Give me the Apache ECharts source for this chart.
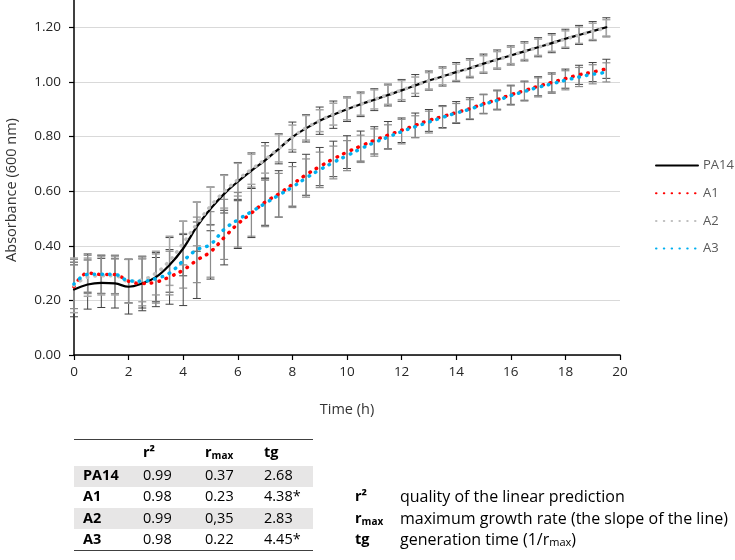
<!DOCTYPE html>
<html>
<head>
<meta charset="utf-8">
<script src="https://cdn.jsdelivr.net/npm/echarts@6/dist/echarts.min.js"></script>
<style>html,body{margin:0;padding:0;background:#fff}#c{width:735px;height:560px}</style>
</head>
<body>
<div id="c"></div>
<script>
var times = [0,0.5,1,1.5,2,2.5,3,3.5,4,4.5,5,5.5,6,6.5,7,7.5,8,8.5,9,9.5,10,10.5,11,11.5,12,12.5,13,13.5,14,14.5,15,15.5,16,16.5,17,17.5,18,18.5,19,19.5];
var PA14 = [0.24,0.258,0.264,0.262,0.25,0.262,0.285,0.33,0.39,0.47,0.535,0.59,0.635,0.675,0.713,0.755,0.798,0.83,0.858,0.88,0.9,0.918,0.935,0.952,0.969,0.987,1.005,1.02,1.036,1.05,1.067,1.082,1.097,1.112,1.127,1.142,1.158,1.172,1.186,1.2];
var A1 = [0.25,0.3,0.295,0.295,0.27,0.262,0.267,0.286,0.311,0.347,0.378,0.43,0.48,0.52,0.56,0.59,0.625,0.66,0.69,0.718,0.743,0.765,0.786,0.805,0.823,0.841,0.859,0.873,0.888,0.902,0.92,0.935,0.953,0.968,0.984,0.998,1.012,1.026,1.036,1.048];
var A2 = [0.255,0.285,0.29,0.29,0.27,0.275,0.3,0.345,0.41,0.48,0.545,0.598,0.642,0.68,0.716,0.757,0.797,0.832,0.858,0.882,0.901,0.918,0.936,0.953,0.97,0.988,1.004,1.02,1.035,1.05,1.066,1.081,1.097,1.112,1.127,1.142,1.157,1.171,1.185,1.198];
var A3 = [0.26,0.295,0.296,0.295,0.272,0.27,0.28,0.3,0.345,0.385,0.405,0.46,0.495,0.525,0.555,0.585,0.615,0.648,0.678,0.705,0.73,0.755,0.778,0.798,0.818,0.836,0.853,0.87,0.886,0.9,0.918,0.932,0.95,0.965,0.98,0.993,1.006,1.018,1.028,1.035];
var errPA14 = [0.1,0.09,0.09,0.09,0.1,0.1,0.09,0.1,0.1,0.09,0.08,0.07,0.07,0.065,0.065,0.055,0.055,0.05,0.05,0.05,0.045,0.045,0.04,0.04,0.04,0.04,0.035,0.035,0.035,0.035,0.035,0.035,0.035,0.035,0.035,0.035,0.035,0.035,0.035,0.035];
var errA1 = [0.08,0.07,0.07,0.07,0.08,0.09,0.09,0.1,0.13,0.14,0.1,0.1,0.09,0.09,0.085,0.085,0.08,0.075,0.07,0.065,0.06,0.055,0.05,0.05,0.045,0.045,0.04,0.04,0.04,0.04,0.035,0.035,0.035,0.035,0.035,0.035,0.035,0.035,0.035,0.035];
var errA2 = [0.1,0.07,0.07,0.07,0.08,0.08,0.08,0.09,0.08,0.08,0.07,0.06,0.06,0.055,0.05,0.05,0.045,0.045,0.04,0.04,0.04,0.04,0.035,0.035,0.035,0.03,0.03,0.03,0.03,0.03,0.03,0.03,0.03,0.03,0.03,0.03,0.03,0.03,0.03,0.03];
var errA3 = [0.09,0.07,0.07,0.07,0.08,0.09,0.09,0.08,0.1,0.12,0.12,0.11,0.1,0.09,0.085,0.08,0.075,0.07,0.065,0.06,0.055,0.05,0.05,0.045,0.045,0.04,0.04,0.04,0.035,0.035,0.035,0.035,0.035,0.035,0.035,0.035,0.035,0.035,0.035,0.035];
var yTicks = [0, 0.2, 0.4, 0.6, 0.8, 1.0, 1.2];
var xTicks = [0, 2, 4, 6, 8, 10, 12, 14, 16, 18, 20];
var tableHeader = ['', 'r²', 'rmax', 'tg'];
var tableRows = [['PA14','0.99','0.37','2.68'],['A1','0.98','0.23','4.38*'],['A2','0.99','0,35','2.83'],['A3','0.98','0.22','4.45*']];
var defs = [['r²','quality of the linear prediction'],['rmax','maximum growth rate (the slope of the line)'],['tg','generation time (1/rmax)']];

var FONT = 'Open Sans';
function pairs(v){ return times.map(function(t,i){ return [t, v[i]]; }); }
function errData(v, e){ return times.map(function(t,i){ return [t, v[i]-e[i], v[i]+e[i]]; }); }
function errSeries(v, e, color, w){
  return {
    type:'custom', silent:true, z:1, clip:false,
    data: errData(v,e),
    renderItem: function(params, api){
      var x = api.value(0), lo = api.value(1), hi = api.value(2);
      var p1 = api.coord([x, hi]), p2 = api.coord([x, lo]);
      var c = 4; var st = {stroke: color, lineWidth: w};
      return {type:'group', children:[
        {type:'line', shape:{x1:p1[0], y1:p1[1], x2:p2[0], y2:p2[1]}, style:st},
        {type:'line', shape:{x1:p1[0]-c, y1:p1[1], x2:p1[0]+c, y2:p1[1]}, style:st},
        {type:'line', shape:{x1:p2[0]-c, y1:p2[1], x2:p2[0]+c, y2:p2[1]}, style:st}
      ]};
    }
  };
}
var dotted = [0.5, 7.3];
function lineSeries(name, v, color, type, width){
  return {name:name, type:'line', data:pairs(v), smooth:0.4, showSymbol:false, symbol:'none', z:3,
    lineStyle:{color:color, width:width, type:type, cap:'round'}, itemStyle:{color:color}};
}

// table graphics
var g = [];
var tx = [83, 143, 205, 264];
var rowY = [453, 476, 497, 519, 540];
g.push({type:'rect', shape:{x:74, y:466, width:239, height:21}, style:{fill:'#e7e6e6'}});
g.push({type:'rect', shape:{x:74, y:508, width:239, height:21}, style:{fill:'#e7e6e6'}});
g.push({type:'line', shape:{x1:74, y1:439.5, x2:313, y2:439.5}, style:{stroke:'#404040', lineWidth:1}});
g.push({type:'line', shape:{x1:74, y1:550.5, x2:313, y2:550.5}, style:{stroke:'#404040', lineWidth:1}});
var rich = {
  b:{fontFamily:FONT, fontSize:14.5, fontWeight:'bold', color:'#1a1a1a'},
  bs:{fontFamily:FONT, fontSize:10, fontWeight:'bold', color:'#1a1a1a', padding:[6,0,0,0]},
  n:{fontFamily:FONT, fontSize:14.5, color:'#1a1a1a'},
  s:{fontFamily:FONT, fontSize:10, color:'#1a1a1a', padding:[6,0,0,0]},
  d:{fontFamily:FONT, fontSize:16, color:'#1a1a1a'},
  ds:{fontFamily:FONT, fontSize:11, color:'#1a1a1a', padding:[6,0,0,0]}
};
function boldLabel(s){
  if (s === 'rmax') return '{b|r}{bs|max}';
  return '{b|' + s + '}';
}
function addText(x, y, text){
  g.push({type:'text', x:x, y:y, style:{text:text, rich:rich, verticalAlign:'middle', align:'left'}});
}
tableHeader.forEach(function(h, j){ if (h) addText(tx[j], rowY[0], boldLabel(h)); });
tableRows.forEach(function(r, i){
  r.forEach(function(c, j){
    addText(tx[j], rowY[i+1], j===0 ? '{b|'+c+'}' : '{n|'+c+'}');
  });
});
defs.forEach(function(d, i){
  addText(355, rowY[i+2], boldLabel(d[0]));
  var desc = d[1].indexOf('rmax') >= 0 ? '{d|generation time (1/r}{ds|max}{d|)}' : '{d|' + d[1] + '}';
  addText(400, rowY[i+2], desc);
});
// y axis title
g.push({type:'text', x:12, y:190, rotation:Math.PI/2, style:{text:'Absorbance (600 nm)', fontFamily:FONT, fontSize:14.5, fill:'#333', align:'center', verticalAlign:'middle'}});

var chart = echarts.init(document.getElementById('c'), null, {renderer:'canvas'});
chart.setOption({
  animation:false,
  backgroundColor:'#fff',
  grid:{left:74, right:115, top:0, bottom:205, containLabel:false},
  xAxis:{type:'value', min:xTicks[0], max:xTicks[xTicks.length-1], interval:2,
    name:'Time (h)', nameLocation:'middle', nameGap:47,
    nameTextStyle:{fontFamily:FONT, fontSize:14.5, color:'#333'},
    axisLine:{lineStyle:{color:'#000', width:1.5}},
    axisTick:{show:true, inside:false, length:5, lineStyle:{color:'#000', width:1.2}},
    axisLabel:{fontFamily:FONT, fontSize:13.5, color:'#262626', margin:10},
    splitLine:{show:false}},
  yAxis:{type:'value', min:yTicks[0], max:1.3, interval:0.2,
    axisLine:{show:true, lineStyle:{color:'#000', width:1.5}},
    axisTick:{show:true, inside:false, length:5, lineStyle:{color:'#000', width:1.2}},
    axisLabel:{fontFamily:FONT, fontSize:13.5, color:'#262626', margin:13, showMaxLabel:false,
      formatter:function(v){ return yTicks.some(function(t){return Math.abs(t-v)<1e-6;}) ? v.toFixed(2) : ''; }},
    splitLine:{show:true, showMaxLine:false, lineStyle:{color:'#d9d9d9', width:1.2}}},
  legend:{orient:'vertical', left:650, top:154, itemWidth:42, itemHeight:14, itemGap:14.7,
    itemStyle:{color:'rgba(0,0,0,0)', borderWidth:0, opacity:0},
    textStyle:{fontFamily:FONT, fontSize:13, color:'#595959'}, data:['PA14','A1','A2','A3']},
  graphic:g,
  series:[
    errSeries(PA14, errPA14, '#404040', 1),
    errSeries(A1, errA1, '#404040', 1),
    errSeries(A2, errA2, '#a6a6a6', 1.5),
    errSeries(A3, errA3, '#8c8c8c', 1.2),
    lineSeries('PA14', PA14, '#000000', 'solid', 2.2),
    lineSeries('A1', A1, '#ff0000', dotted, 3.5),
    lineSeries('A2', A2, '#bfbfbf', dotted, 3.5),
    lineSeries('A3', A3, '#00b0f0', dotted, 3.5)
  ]
});
</script>
</body>
</html>
